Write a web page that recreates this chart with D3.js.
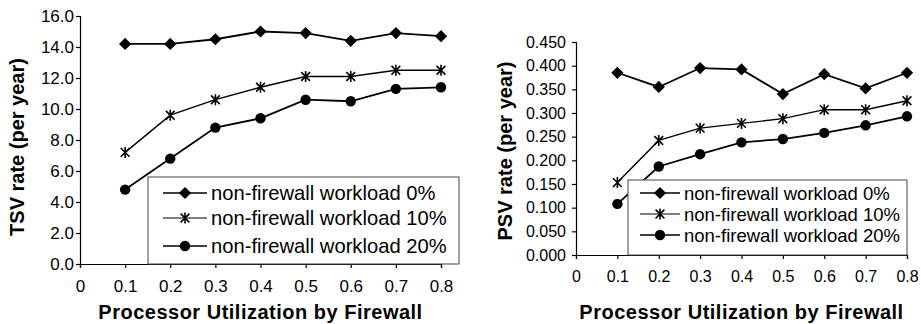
<!DOCTYPE html>
<html>
<head>
<meta charset="utf-8">
<script src="https://cdn.jsdelivr.net/npm/d3@7"></script>
<style>
  body { margin: 0; background: #fff; }
  svg { display: block; font-family: "Liberation Sans", Arial, sans-serif; }
</style>
</head>
<body>
<svg id="chart" width="921" height="324"></svg>
<script>
// shared x categories (processor utilization by firewall)
const utilization = [0.1, 0.2, 0.3, 0.4, 0.5, 0.6, 0.7, 0.8];
const xTicks = [0, 0.1, 0.2, 0.3, 0.4, 0.5, 0.6, 0.7, 0.8];
const seriesNames = ["non-firewall workload 0%", "non-firewall workload 10%", "non-firewall workload 20%"];

// TSV rate (per year)
const tsv0 = [14.2, 14.2, 14.5, 15.0, 14.9, 14.4, 14.9, 14.7];
const tsv10 = [7.2, 9.6, 10.6, 11.4, 12.1, 12.1, 12.5, 12.5];
const tsv20 = [4.8, 6.8, 8.8, 9.4, 10.6, 10.5, 11.3, 11.4];
const tsvTicks = [0, 2, 4, 6, 8, 10, 12, 14, 16];

// PSV rate (per year)
const psv0 = [0.385, 0.355, 0.395, 0.392, 0.340, 0.382, 0.352, 0.385];
const psv10 = [0.153, 0.242, 0.268, 0.278, 0.288, 0.307, 0.307, 0.326];
const psv20 = [0.108, 0.187, 0.213, 0.238, 0.245, 0.258, 0.274, 0.293];
const psvTicks = [0, 0.05, 0.1, 0.15, 0.2, 0.25, 0.3, 0.35, 0.4, 0.45];

const svg = d3.select("#chart");

// asterisk marker: X plus a vertical stroke
const symbolStar = {
  draw(ctx, size) {
    const r = Math.sqrt(size) / 2;
    const d = r * 0.8;
    ctx.moveTo(0, -r); ctx.lineTo(0, r);
    ctx.moveTo(-d, -d); ctx.lineTo(d, d);
    ctx.moveTo(-d, d); ctx.lineTo(d, -d);
  }
};

// square diamond (same width and height)
const symbolRhomb = {
  draw(ctx, size) {
    const r = Math.sqrt(size) / 2;
    ctx.moveTo(0, -r); ctx.lineTo(r, 0); ctx.lineTo(0, r); ctx.lineTo(-r, 0);
    ctx.closePath();
  }
};

const markers = [
  { type: symbolRhomb, size: 150, fill: "#000", stroke: "none" },
  { type: symbolStar, size: 120, fill: "none", stroke: "#000" },
  { type: d3.symbolCircle, size: 85, fill: "#000", stroke: "none" }
];

function drawPanel(p) {
  const x = d3.scaleLinear().domain([0, 0.8]).range([p.left, p.right]);
  const y = d3.scaleLinear().domain([0, p.yMax]).range([p.bottom, p.top]);
  const g = svg.append("g");

  const yAxis = g.append("g")
      .attr("transform", "translate(" + p.left + ",0)")
      .call(d3.axisLeft(y).tickValues(p.yTicks).tickFormat(d3.format(p.yFormat))
        .tickSize(4).tickPadding(p.yPad));
  yAxis.selectAll("text").attr("font-size", p.tickFont).attr("fill", "#000");

  const xAxis = g.append("g")
      .attr("transform", "translate(0," + p.bottom + ")")
      .call(d3.axisBottom(x).tickValues(xTicks).tickFormat(d => d === 0 ? "0" : d3.format(".1f")(d))
        .tickSize(4).tickPadding(p.xPad));
  xAxis.selectAll("text").attr("font-size", p.tickFont).attr("fill", "#000");
  g.selectAll(".domain, .tick line").attr("stroke", "#000").attr("stroke-width", 1.2);

  const line = d3.line().x((d, i) => x(utilization[i])).y(d => y(d));

  p.series.forEach((vals, k) => {
    g.append("path")
        .datum(vals)
        .attr("fill", "none")
        .attr("stroke", "#000")
        .attr("stroke-width", k === 1 ? 1.4 : 1.8)
        .attr("d", line);
    const m = markers[k];
    g.selectAll(null)
      .data(vals)
      .enter().append("path")
        .attr("transform", (d, i) => "translate(" + x(utilization[i]) + "," + y(d) + ")")
        .attr("d", d3.symbol().type(m.type).size(m.size))
        .attr("fill", m.fill)
        .attr("stroke", m.stroke)
        .attr("stroke-width", 1.6);
  });

  // legend with white fill over the plot
  const lg = p.legend;
  g.append("rect")
      .attr("x", lg.x).attr("y", lg.y)
      .attr("width", lg.w).attr("height", lg.h)
      .attr("fill", "#fff").attr("stroke", "#444").attr("stroke-width", 1);
  seriesNames.forEach((name, k) => {
    const ly = lg.rows[k];
    g.append("line")
        .attr("x1", lg.lineX1).attr("x2", lg.lineX2)
        .attr("y1", ly).attr("y2", ly)
        .attr("stroke", "#000").attr("stroke-width", k === 1 ? 1.2 : 1.6);
    const m = markers[k];
    g.append("path")
        .attr("transform", "translate(" + ((lg.lineX1 + lg.lineX2) / 2) + "," + ly + ")")
        .attr("d", d3.symbol().type(m.type).size(m.size))
        .attr("fill", m.fill).attr("stroke", m.stroke).attr("stroke-width", 1.6);
    g.append("text")
        .attr("x", lg.textX).attr("y", ly)
        .attr("dy", "0.36em")
        .attr("font-size", lg.font)
        .attr("fill", "#000")
        .text(name);
  });

  g.append("text")
      .attr("x", (p.left + p.right) / 2).attr("y", 319)
      .attr("text-anchor", "middle")
      .attr("font-size", 20).attr("font-weight", "bold")
      .attr("letter-spacing", "0.5px")
      .text("Processor Utilization by Firewall");

  g.append("text")
      .attr("transform", "translate(" + p.yTitleX + "," + p.yTitleY + ") rotate(-90)")
      .attr("dy", "0.35em")
      .attr("text-anchor", "middle")
      .attr("font-size", 20).attr("font-weight", "bold")
      .text(p.yTitle);
}

drawPanel({
  left: 80, right: 441, top: 16, bottom: 264,
  yMax: 16, yTicks: tsvTicks, yFormat: ".1f", yPad: 2, xPad: 12, tickFont: 17,
  series: [tsv0, tsv10, tsv20],
  yTitle: "TSV rate (per year)", yTitleX: 17, yTitleY: 147,
  legend: { x: 148, y: 177, w: 311, h: 87, rows: [193, 218, 246],
            lineX1: 163, lineX2: 207, textX: 211, font: 20.2 }
});

drawPanel({
  left: 576, right: 907, top: 42, bottom: 255,
  yMax: 0.45, yTicks: psvTicks, yFormat: ".3f", yPad: 6, xPad: 12, tickFont: 16,
  series: [psv0, psv10, psv20],
  yTitle: "PSV rate (per year)", yTitleX: 505, yTitleY: 151,
  legend: { x: 628, y: 180, w: 279, h: 75, rows: [193, 214, 235],
            lineX1: 640, lineX2: 680, textX: 684, font: 18.5 }
});
</script>
</body>
</html>
